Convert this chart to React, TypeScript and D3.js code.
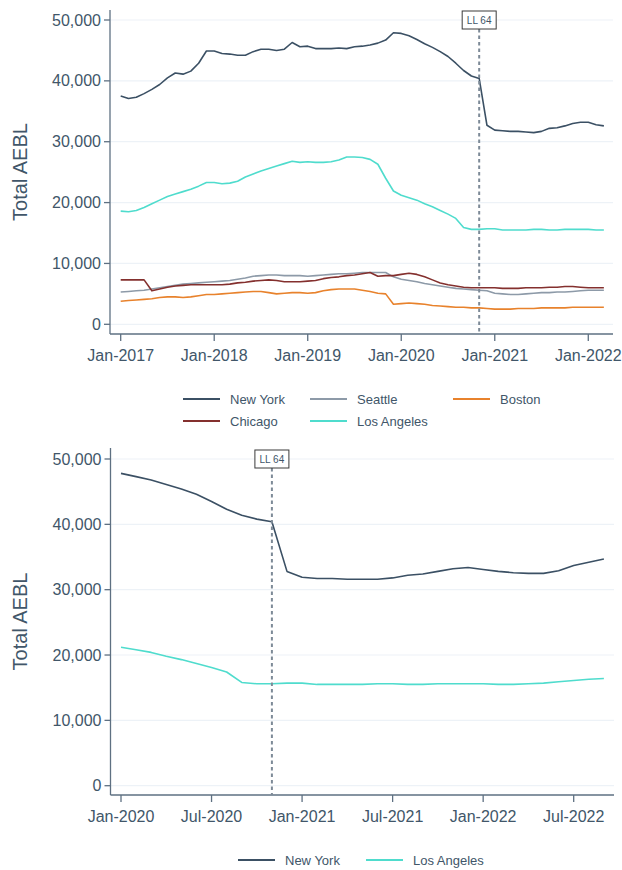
import React, { useRef, useEffect } from 'react';
import * as d3 from 'd3';

const W = 622;
const H = 870;

// top panel: monthly values Jan-2017 .. Mar-2022, in thousands
const topNewYork = [
  37.5, 37.1, 37.3, 37.9, 38.6, 39.4, 40.5, 41.3, 41.1, 41.6, 42.9, 44.9,
  44.9, 44.5, 44.4, 44.2, 44.2, 44.8, 45.2, 45.2, 45.0, 45.2, 46.3, 45.6,
  45.7, 45.3, 45.3, 45.3, 45.4, 45.3, 45.6, 45.7, 45.9, 46.2, 46.7, 47.9,
  47.8, 47.4, 46.8, 46.1, 45.5, 44.8, 44.0, 42.9, 41.7, 40.8, 40.4, 32.7,
  31.9, 31.8, 31.7, 31.7, 31.6, 31.5, 31.7, 32.2, 32.3, 32.6, 33.0, 33.2,
  33.2, 32.8, 32.6,
];
const topSeattle = [
  5.3, 5.4, 5.5, 5.6, 5.8, 6.0, 6.2, 6.4, 6.6, 6.7, 6.8, 6.9,
  7.0, 7.1, 7.2, 7.4, 7.6, 7.9, 8.0, 8.1, 8.1, 8.0, 8.0, 8.0,
  7.9, 8.0, 8.1, 8.2, 8.3, 8.3, 8.4, 8.5, 8.5, 8.5, 8.5, 7.8,
  7.4, 7.2, 7.0, 6.7, 6.5, 6.3, 6.1, 5.9, 5.8, 5.7, 5.6, 5.5,
  5.1, 5.0, 4.9, 4.9, 5.0, 5.1, 5.2, 5.2, 5.3, 5.3, 5.4, 5.5,
  5.6, 5.6, 5.6,
];
const topBoston = [
  3.8, 3.9, 4.0, 4.1, 4.2, 4.4, 4.5, 4.5, 4.4, 4.5, 4.7, 4.9,
  4.9, 5.0, 5.1, 5.2, 5.3, 5.4, 5.4, 5.2, 5.0, 5.1, 5.2, 5.2,
  5.1, 5.2, 5.5, 5.7, 5.8, 5.8, 5.8, 5.6, 5.4, 5.1, 5.0, 3.3,
  3.4, 3.5, 3.4, 3.3, 3.1, 3.0, 2.9, 2.8, 2.8, 2.7, 2.7, 2.6,
  2.5, 2.5, 2.5, 2.6, 2.6, 2.6, 2.7, 2.7, 2.7, 2.7, 2.8, 2.8,
  2.8, 2.8, 2.8,
];
const topChicago = [
  7.3, 7.3, 7.3, 7.3, 5.5, 5.8, 6.1, 6.3, 6.4, 6.5, 6.5, 6.5,
  6.5, 6.5, 6.6, 6.8, 6.9, 7.1, 7.2, 7.3, 7.2, 7.0, 7.0, 7.0,
  7.1, 7.2, 7.5, 7.7, 7.8, 8.0, 8.1, 8.3, 8.5, 7.9, 8.0, 8.0,
  8.2, 8.4, 8.2, 7.8, 7.3, 6.8, 6.5, 6.3, 6.1, 6.0, 6.0, 6.0,
  6.0, 5.9, 5.9, 5.9, 6.0, 6.0, 6.0, 6.1, 6.1, 6.2, 6.2, 6.1,
  6.0, 6.0, 6.0,
];
const topLosAngeles = [
  18.6, 18.5, 18.7, 19.2, 19.8, 20.4, 21.0, 21.4, 21.8, 22.2, 22.7, 23.3,
  23.3, 23.1, 23.2, 23.5, 24.2, 24.7, 25.2, 25.6, 26.0, 26.4, 26.8, 26.6,
  26.7, 26.6, 26.6, 26.7, 27.0, 27.5, 27.5, 27.4, 27.1, 26.3, 24.0, 21.9,
  21.2, 20.8, 20.4, 19.8, 19.3, 18.7, 18.1, 17.4, 15.9, 15.6, 15.6, 15.7,
  15.7, 15.5, 15.5, 15.5, 15.5, 15.6, 15.6, 15.5, 15.5, 15.6, 15.6, 15.6,
  15.6, 15.5, 15.5,
];

// bottom panel: monthly values Jan-2020 .. Sep-2022, in thousands
const bottomNewYork = [
  47.8, 47.3, 46.8, 46.1, 45.4, 44.6, 43.5, 42.3, 41.4, 40.8, 40.4, 32.8,
  31.9, 31.7, 31.7, 31.6, 31.6, 31.6, 31.8, 32.2, 32.4, 32.8, 33.2, 33.4,
  33.1, 32.8, 32.6, 32.5, 32.5, 32.9, 33.7, 34.2, 34.7,
];
const bottomLosAngeles = [
  21.2, 20.8, 20.4, 19.8, 19.3, 18.7, 18.1, 17.4, 15.8, 15.6, 15.6, 15.7,
  15.7, 15.5, 15.5, 15.5, 15.5, 15.6, 15.6, 15.5, 15.5, 15.6, 15.6, 15.6,
  15.6, 15.5, 15.5, 15.6, 15.7, 15.9, 16.1, 16.3, 16.4,
];

const topTickLabels = ['Jan-2017', 'Jan-2018', 'Jan-2019', 'Jan-2020', 'Jan-2021', 'Jan-2022'];
const bottomTickLabels = ['Jan-2020', 'Jul-2020', 'Jan-2021', 'Jul-2021', 'Jan-2022', 'Jul-2022'];
const yTicks = [0, 10000, 20000, 30000, 40000, 50000];
const lawLabel = 'LL 64';

const colors = {
  'New York': '#3b5064',
  Seattle: '#8d9aa8',
  Boston: '#e8822c',
  Chicago: '#84302e',
  'Los Angeles': '#4fdccd',
};

const textColor = '#415669';
const axisColor = '#5e7082';
const gridColor = '#edf2f7';
const font = '"Liberation Sans", Arial, sans-serif';

function drawPanel(svg, p) {
  const g = svg.append('g');
  const n = p.series[0].values.length;

  const x = d3.scaleLinear().domain([0, n - 1]).range([p.x0, p.x0 + (n - 1) * p.monthPx]);
  const y = d3.scaleLinear().domain([0, 50000]).range([p.yZero, p.yFifty]);

  // gridlines
  g.selectAll('line.grid')
    .data(yTicks)
    .join('line')
    .attr('x1', p.left)
    .attr('x2', p.right)
    .attr('y1', d => y(d))
    .attr('y2', d => y(d))
    .attr('stroke', gridColor)
    .attr('stroke-width', 1.2);

  // axes
  g.append('line')
    .attr('x1', p.left).attr('x2', p.left)
    .attr('y1', p.top).attr('y2', p.bottom)
    .attr('stroke', axisColor).attr('stroke-width', 1.3);
  g.append('line')
    .attr('x1', p.left).attr('x2', p.right)
    .attr('y1', p.bottom).attr('y2', p.bottom)
    .attr('stroke', axisColor).attr('stroke-width', 1.3);

  g.selectAll('line.ytick')
    .data(yTicks)
    .join('line')
    .attr('x1', p.left - 6).attr('x2', p.left)
    .attr('y1', d => y(d)).attr('y2', d => y(d))
    .attr('stroke', axisColor).attr('stroke-width', 1.3);
  g.selectAll('text.ytick')
    .data(yTicks)
    .join('text')
    .attr('x', p.left - 9)
    .attr('y', d => y(d))
    .attr('dy', '0.35em')
    .attr('text-anchor', 'end')
    .attr('font-size', 16)
    .attr('fill', textColor)
    .text(d => d3.format(',')(d));

  const xt = p.tickLabels.map((label, i) => ({ label, idx: i * p.tickStep }));
  g.selectAll('line.xtick')
    .data(xt)
    .join('line')
    .attr('x1', d => x(d.idx)).attr('x2', d => x(d.idx))
    .attr('y1', p.bottom).attr('y2', p.bottom + 7)
    .attr('stroke', axisColor).attr('stroke-width', 1.3);
  g.selectAll('text.xtick')
    .data(xt)
    .join('text')
    .attr('x', d => x(d.idx))
    .attr('y', p.bottom + 21)
    .attr('dy', '0.35em')
    .attr('text-anchor', 'middle')
    .attr('font-size', 16)
    .attr('fill', textColor)
    .text(d => d.label);

  g.append('text')
    .attr('transform', `translate(20,${(p.top + p.bottom) / 2}) rotate(-90)`)
    .attr('dy', '0.35em')
    .attr('text-anchor', 'middle')
    .attr('font-size', 20)
    .attr('fill', textColor)
    .text('Total AEBL');

  const line = d3.line()
    .x((d, i) => x(i))
    .y(d => y(d * 1000));

  p.series.forEach(s => {
    g.append('path')
      .datum(s.values)
      .attr('fill', 'none')
      .attr('stroke', colors[s.name])
      .attr('stroke-width', 1.6)
      .attr('stroke-linejoin', 'round')
      .attr('d', line);
  });

  // law marker
  const lx = x(p.lawIndex);
  g.append('line')
    .attr('x1', lx).attr('x2', lx)
    .attr('y1', p.boxTop + 18).attr('y2', p.bottom)
    .attr('stroke', '#7d8a97')
    .attr('stroke-width', 2)
    .attr('stroke-dasharray', '3.5,3');
  g.append('rect')
    .attr('x', lx - 17).attr('y', p.boxTop)
    .attr('width', 34).attr('height', 18)
    .attr('fill', '#fff')
    .attr('stroke', '#3a3a3a')
    .attr('stroke-width', 1);
  g.append('text')
    .attr('x', lx).attr('y', p.boxTop + 9)
    .attr('dy', '0.35em')
    .attr('text-anchor', 'middle')
    .attr('font-size', 10)
    .attr('fill', textColor)
    .text(lawLabel);

  // legend
  p.legend.forEach(item => {
    g.append('line')
      .attr('x1', item.x).attr('x2', item.x + 37)
      .attr('y1', item.y).attr('y2', item.y)
      .attr('stroke', colors[item.name])
      .attr('stroke-width', 2);
    g.append('text')
      .attr('x', item.x + 47).attr('y', item.y)
      .attr('dy', '0.35em')
      .attr('font-size', 13)
      .attr('fill', textColor)
      .text(item.name);
  });
}

export default function App() {
  const svgRef = useRef(null);

  useEffect(() => {
    const svg = d3.select(svgRef.current);
    svg.selectAll('*').remove();
    svg.attr('font-family', font);

    drawPanel(svg, {
      series: [
        { name: 'Seattle', values: topSeattle },
        { name: 'Boston', values: topBoston },
        { name: 'Chicago', values: topChicago },
        { name: 'Los Angeles', values: topLosAngeles },
        { name: 'New York', values: topNewYork },
      ],
      x0: 120.7,
      monthPx: 7.793,
      left: 110,
      right: 613,
      top: 10,
      bottom: 334,
      yZero: 324.3,
      yFifty: 20,
      tickLabels: topTickLabels,
      tickStep: 12,
      lawIndex: 46,
      boxTop: 11,
      legend: [
        { name: 'New York', x: 183, y: 399 },
        { name: 'Seattle', x: 310, y: 399 },
        { name: 'Boston', x: 453, y: 399 },
        { name: 'Chicago', x: 183, y: 421 },
        { name: 'Los Angeles', x: 310, y: 421 },
      ],
    });

    drawPanel(svg, {
      series: [
        { name: 'Los Angeles', values: bottomLosAngeles },
        { name: 'New York', values: bottomNewYork },
      ],
      x0: 121,
      monthPx: 15.09,
      left: 110.5,
      right: 614,
      top: 448,
      bottom: 795,
      yZero: 785.7,
      yFifty: 459,
      tickLabels: bottomTickLabels,
      tickStep: 6,
      lawIndex: 10,
      boxTop: 450,
      legend: [
        { name: 'New York', x: 238, y: 860 },
        { name: 'Los Angeles', x: 366, y: 860 },
      ],
    });
  }, []);

  return (
    <svg
      ref={svgRef}
      width={W}
      height={H}
      style={{ position: 'absolute', left: 0, top: 0, background: '#fff' }}
    />
  );
}
